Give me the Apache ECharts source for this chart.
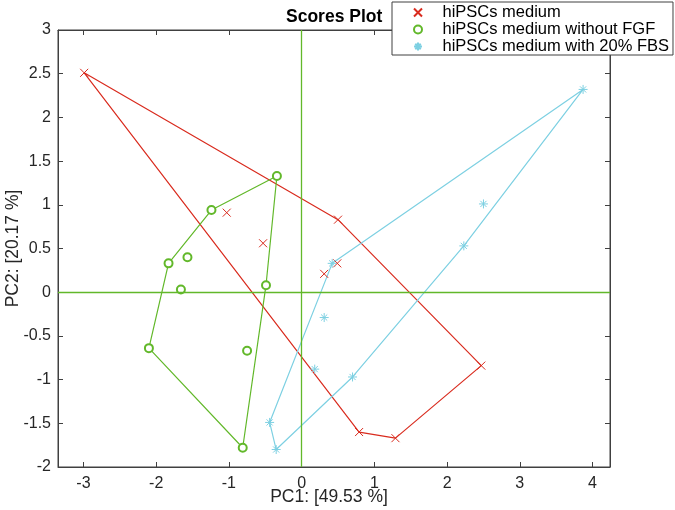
<!DOCTYPE html>
<html>
<head>
<meta charset="utf-8">
<script src="https://cdn.jsdelivr.net/npm/echarts@6/dist/echarts.min.js"></script>
<style>html,body{margin:0;padding:0;background:#fff;}#c{width:675px;height:510px;}</style>
</head>
<body>
<div id="c"></div>
<script>
// ---- data ----
const groupNames = ['hiPSCs medium', 'hiPSCs medium without FGF', 'hiPSCs medium with 20% FBS'];
const mediumX = [-2.99, -1.03, -0.53, 0.50, 0.31, 0.49, 2.47, 0.79, 1.29];
const mediumY = [2.51, 0.91, 0.56, 0.83, 0.21, 0.33, -0.84, -1.60, -1.67];
const mediumHull = [0, 3, 6, 8, 7, 0];
const noFgfX = [-0.34, -1.24, -1.83, -1.57, -1.66, -0.49, -2.10, -0.75, -0.81];
const noFgfY = [1.33, 0.94, 0.33, 0.40, 0.03, 0.08, -0.64, -0.67, -1.78];
const noFgfHull = [0, 1, 2, 6, 8, 5, 0];
const fbsX = [3.87, 2.50, 2.23, 0.42, 0.31, 0.18, 0.70, -0.44, -0.35];
const fbsY = [2.32, 1.01, 0.53, 0.33, -0.29, -0.88, -0.97, -1.49, -1.80];
const fbsHull = [0, 3, 7, 8, 6, 2, 0];
const xTitle = 'PC1: [49.53 %]';
const yTitle = 'PC2: [20.17 %]';
const chartTitle = 'Scores Plot';

// ---- styling ----
const RED = '#D92B1E', GREEN = '#62B82A', CYAN = '#7DD0E2';
const AX = '#404040', TXT = '#262626';
const FONT = '"Liberation Sans", Arial, Helvetica, sans-serif';
const SYM_X = 'path://M0,0L10,10M10,0L0,10';
const SYM_STAR = 'path://M5,0L5,10M0,5L10,5M1.6,1.6L8.4,8.4M8.4,1.6L1.6,8.4';

function pts(xs, ys) { return xs.map((x, i) => [x, ys[i]]); }
function hull(xs, ys, idx) { return idx.map(i => [xs[i], ys[i]]); }

const groups = [
  {name: groupNames[0], xs: mediumX, ys: mediumY, h: mediumHull, color: RED, symbol: SYM_X, size: 8},
  {name: groupNames[1], xs: noFgfX, ys: noFgfY, h: noFgfHull, color: GREEN, symbol: 'emptyCircle', size: 8},
  {name: groupNames[2], xs: fbsX, ys: fbsY, h: fbsHull, color: CYAN, symbol: SYM_STAR, size: 9}
];

const series = [];
// zero lines
series.push({
  type: 'line', data: [], silent: true, z: 1,
  markLine: {
    silent: true, symbol: 'none', animation: false,
    label: {show: false},
    lineStyle: {color: GREEN, width: 1.3, type: 'solid'},
    data: [{xAxis: 0}, {yAxis: 0}]
  }
});
// bind secondary (mirror) axes
series.push({type: 'scatter', data: [], xAxisIndex: 1, yAxisIndex: 1, silent: true});
groups.forEach(g => {
  series.push({
    type: 'line', name: g.name + ' hull', data: hull(g.xs, g.ys, g.h),
    showSymbol: false, symbol: 'none', silent: true, z: 2,
    lineStyle: {color: g.color, width: 1.2}
  });
});
groups.forEach(g => {
  series.push({
    type: 'scatter', name: g.name, data: pts(g.xs, g.ys),
    symbol: g.symbol, symbolSize: g.size, symbolKeepAspect: true, z: 3,
    itemStyle: {color: g.color, borderColor: g.color, borderWidth: 1, opacity: 1}
  });
});

function xAxisBase() {
  return {
    type: 'value', min: -3.35, max: 4.24, splitNumber: 8, gridIndex: 0,
    axisLine: {show: true, onZero: false, lineStyle: {color: AX, width: 1}},
    axisTick: {show: true, inside: true, length: 5, lineStyle: {color: AX}},
    splitLine: {show: false}
  };
}
function yAxisBase() {
  return {
    type: 'value', min: -2, max: 3, interval: 0.5, gridIndex: 0,
    axisLine: {show: true, onZero: false, lineStyle: {color: AX, width: 1}},
    axisTick: {show: true, inside: true, length: 5, lineStyle: {color: AX}},
    splitLine: {show: false}
  };
}

const chart = echarts.init(document.getElementById('c'), null, {renderer: 'canvas'});
chart.setOption({
  animation: false,
  backgroundColor: '#fff',
  title: {
    text: chartTitle, left: 286, top: 8, padding: 0,
    textStyle: {fontFamily: FONT, fontWeight: 'bold', fontSize: 17.5, color: '#000'}
  },
  legend: {
    data: groupNames, orient: 'vertical', left: 392, top: 2,
    padding: [2, 4, 0, 21], itemGap: 0, itemWidth: 25, itemHeight: 8,
    backgroundColor: '#fff', borderColor: AX, borderWidth: 1,
    textStyle: {fontFamily: FONT, fontSize: 16.5, color: '#000', padding: [0, 0, 0, 7]},
    selectedMode: false, z: 10
  },
  grid: {left: 58, right: 65, top: 30, bottom: 43, containLabel: false, outerBoundsMode: 'none',
         show: true, borderColor: AX, borderWidth: 1, backgroundColor: 'transparent'},
  xAxis: [
    Object.assign(xAxisBase(), {
      position: 'bottom', name: xTitle, nameLocation: 'middle', nameGap: 21, nameMoveOverlap: false,
      nameTextStyle: {fontFamily: FONT, fontSize: 17.5, color: TXT, padding: [0, 10, 0, 0]},
      axisLabel: {show: true, showMinLabel: false, showMaxLabel: false, margin: 9, fontFamily: FONT, fontSize: 16, color: TXT}
    }),
    Object.assign(xAxisBase(), {position: 'top', axisLabel: {show: false}})
  ],
  yAxis: [
    Object.assign(yAxisBase(), {
      position: 'left', name: yTitle, nameLocation: 'middle', nameGap: 36, nameMoveOverlap: false,
      nameTextStyle: {fontFamily: FONT, fontSize: 17.5, color: TXT},
      axisLabel: {show: true, margin: 7, fontFamily: FONT, fontSize: 16, color: TXT}
    }),
    Object.assign(yAxisBase(), {position: 'right', axisLabel: {show: false}})
  ],
  series: series
});
</script>
</body>
</html>
